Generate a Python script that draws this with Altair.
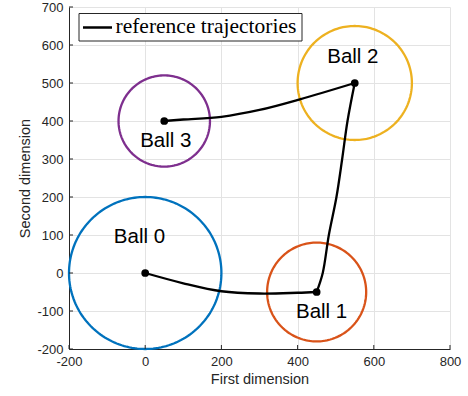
import numpy as np
import pandas as pd
import altair as alt

# Ball regions: name, center, radius and outline colour
ball_names = ["Ball 0", "Ball 1", "Ball 2", "Ball 3"]
center_x = [0, 450, 550, 50]
center_y = [0, -50, 500, 400]
radius = [200, 130, 150, 120]
ball_colors = ["#0072BD", "#D95319", "#EDB120", "#7E2F8E"]

# Where each ball's name is written
label_x = [-15, 463, 545, 54]
label_y = [96, -103, 569, 348]

# Reference trajectory, one segment per ball-to-ball move
seg_0_1_x = [0, 100, 200, 300, 400, 450]
seg_0_1_y = [0, -27, -48, -54, -52, -50]
seg_1_2_x = [450, 466, 482, 502, 517, 531, 550]
seg_1_2_y = [-50, 0, 100, 200, 300, 400, 500]
seg_2_3_x = [550, 406, 300, 200, 100, 50]
seg_2_3_y = [500, 457, 429, 411, 404, 400]

legend_label = ["reference trajectories"]

x_ticks = [-200, 0, 200, 400, 600, 800]
y_ticks = [-200, -100, 0, 100, 200, 300, 400, 500, 600, 700]

W, H = 381, 342
x_scale = alt.Scale(domain=[-200, 800], nice=False, zero=False)
y_scale = alt.Scale(domain=[-200, 700], nice=False, zero=False)

# circle outlines traced from each center/radius
theta = np.linspace(0, 2 * np.pi, 181)
circle_rows = []
for name, cx, cy, r in zip(ball_names, center_x, center_y, radius):
    for i, t in enumerate(theta):
        circle_rows.append({"ball": name, "i": i,
                            "x": cx + r * np.cos(t), "y": cy + r * np.sin(t)})
circles_df = pd.DataFrame(circle_rows)

traj_rows = []
for seg, (xs, ys) in enumerate([(seg_0_1_x, seg_0_1_y),
                                (seg_1_2_x, seg_1_2_y),
                                (seg_2_3_x, seg_2_3_y)]):
    for i, (xv, yv) in enumerate(zip(xs, ys)):
        traj_rows.append({"seg": seg, "i": i, "x": xv, "y": yv})
traj_df = pd.DataFrame(traj_rows)

balls_df = pd.DataFrame({"ball": ball_names, "cx": center_x, "cy": center_y,
                         "lx": label_x, "ly": label_y})
legend_df = pd.DataFrame({"label": legend_label})

# plain hyphen for negative tick labels
plain_label = "'' + datum.value"
x_axis = alt.Axis(values=x_ticks, ticks=False, grid=True, title="First dimension",
                  labelPadding=6, titlePadding=4, labelExpr=plain_label)
y_axis = alt.Axis(values=y_ticks, ticks=False, grid=True, title="Second dimension",
                  labelPadding=6, titlePadding=4, labelExpr=plain_label)

circles = alt.Chart(circles_df).mark_line(strokeWidth=2.3).encode(
    x=alt.X("x:Q", scale=x_scale, axis=x_axis),
    y=alt.Y("y:Q", scale=y_scale, axis=y_axis),
    detail="ball:N",
    order="i:Q",
    stroke=alt.Stroke("ball:N", scale=alt.Scale(domain=ball_names, range=ball_colors),
                      legend=None),
)

trajectory = alt.Chart(traj_df).mark_line(
    strokeWidth=2.3, color="black", interpolate="catmull-rom").encode(
    x=alt.X("x:Q", scale=x_scale, axis=x_axis),
    y=alt.Y("y:Q", scale=y_scale, axis=y_axis),
    detail="seg:N",
    order="i:Q",
)

dots = alt.Chart(balls_df).mark_circle(size=60, color="black", opacity=1).encode(
    x=alt.X("cx:Q", scale=x_scale, axis=x_axis),
    y=alt.Y("cy:Q", scale=y_scale, axis=y_axis),
)

names = alt.Chart(balls_df).mark_text(font="Liberation Sans", fontSize=20.5,
                                      color="black", align="center",
                                      baseline="middle").encode(
    x=alt.X("lx:Q", scale=x_scale, axis=x_axis),
    y=alt.Y("ly:Q", scale=y_scale, axis=y_axis),
    text="ball:N",
)

# inward-pointing tick marks
x_tick_marks = alt.Chart(pd.DataFrame({"t": x_ticks})).mark_rule(
    color="#262626", strokeWidth=1).encode(
    x=alt.X("t:Q", scale=x_scale, axis=x_axis), y=alt.value(H), y2=alt.value(H - 4))
y_tick_marks = alt.Chart(pd.DataFrame({"t": y_ticks})).mark_rule(
    color="#262626", strokeWidth=1).encode(
    y=alt.Y("t:Q", scale=y_scale, axis=y_axis), x=alt.value(0), x2=alt.value(4))

# boxed legend in the upper-left corner
legend_box = alt.Chart(legend_df).mark_rect(
    fill="white", stroke="#262626", strokeWidth=1).encode(
    x=alt.value(10), x2=alt.value(233), y=alt.value(6.5), y2=alt.value(34))
legend_line = alt.Chart(legend_df).mark_rule(color="black", strokeWidth=2.5).encode(
    x=alt.value(14), x2=alt.value(43), y=alt.value(20.5))
legend_text = alt.Chart(legend_df).mark_text(
    font="Liberation Serif", fontSize=21.5, color="black", align="left",
    baseline="middle").encode(
    x=alt.value(46.5), y=alt.value(20), text="label:N")

chart = alt.layer(circles, x_tick_marks, y_tick_marks, trajectory, dots, names,
                  legend_box, legend_line, legend_text).properties(
    width=W, height=H,
    autosize=alt.AutoSizeParams(type="none"),
    padding={"left": 69, "top": 7, "right": 18, "bottom": 47},
).configure_view(stroke=None).configure_axis(
    labelFont="Liberation Sans", labelFontSize=13, labelColor="#262626",
    labelOverlap=False, labelFlush=False,
    titleFont="Liberation Sans", titleFontSize=14.5, titleColor="#262626",
    titleFontWeight="normal",
    domainColor="#262626", domainWidth=1,
    gridColor="#e3e3e3", gridWidth=1,
)

chart.save("out.html", embed_options={"renderer": "svg", "actions": False})
